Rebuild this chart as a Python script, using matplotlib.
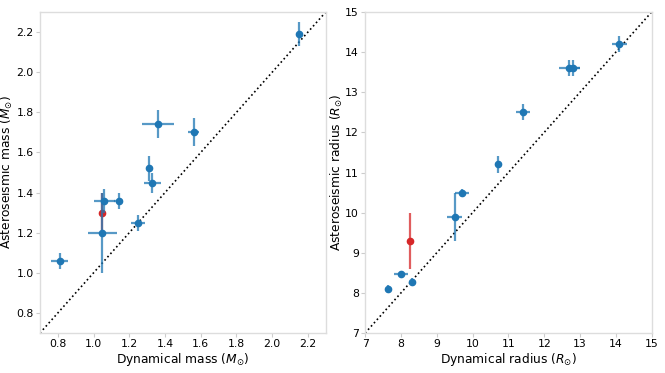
import matplotlib
matplotlib.use("Agg")
import matplotlib.pyplot as plt

# --- mass panel data ---
mass_dyn = [2.15, 1.36, 1.56, 1.31, 1.33, 1.06, 1.14, 1.05, 1.25, 0.81]
mass_dyn_err = [0.01, 0.09, 0.03, 0.01, 0.05, 0.06, 0.025, 0.08, 0.04, 0.05]
mass_ast = [2.19, 1.74, 1.70, 1.52, 1.45, 1.36, 1.36, 1.20, 1.25, 1.06]
mass_ast_err = [0.06, 0.07, 0.07, 0.06, 0.05, 0.06, 0.04, 0.20, 0.04, 0.04]
# highlighted (red) star
mass_red_dyn = [1.05]
mass_red_ast = [1.30]
mass_red_err = [0.10]

# --- radius panel data ---
rad_dyn = [14.1, 12.7, 12.8, 11.4, 10.7, 9.7, 9.5, 8.0, 8.3, 7.65]
rad_dyn_err = [0.2, 0.3, 0.2, 0.2, 0.05, 0.2, 0.2, 0.2, 0.05, 0.05]
rad_ast = [14.2, 13.6, 13.6, 12.5, 11.2, 10.5, 9.9, 8.46, 8.28, 8.09]
rad_ast_err = [0.2, 0.2, 0.2, 0.2, 0.2, 0.1, 0.6, 0.05, 0.08, 0.1]
rad_red_dyn = [8.24]
rad_red_ast = [9.3]
rad_red_err = [0.7]

plt.rcParams['font.family'] = 'DejaVu Sans'
plt.rcParams['font.size'] = 8

fig = plt.figure(figsize=(6.65, 3.73), dpi=100)
ax1 = fig.add_axes([0.060, 0.107, 0.430, 0.861])
ax2 = fig.add_axes([0.549, 0.107, 0.431, 0.861])

ekw = dict(fmt='o', ms=4.5, elinewidth=1.6, capsize=0, ls='none')


def style(ax):
    for s in ax.spines.values():
        s.set_color('#dddddd')
        s.set_linewidth(1.0)
    ax.tick_params(colors='#cccccc', labelcolor='black', length=3, width=0.8,
                   labelsize=7.8, pad=1.5)


# mass panel
ax1.plot([0.7, 2.3], [0.7, 2.3], ls=':', color='black', lw=1.2, zorder=1)
eb = ax1.errorbar(mass_red_dyn, mass_red_ast, yerr=mass_red_err, color='#d62728', zorder=2, **ekw)
eb[2][0].set_alpha(0.75)
eb = ax1.errorbar(mass_dyn, mass_ast, xerr=mass_dyn_err, yerr=mass_ast_err, color='#1f77b4', zorder=3, **ekw)
for c in eb[2]:
    c.set_alpha(0.75)
ax1.set_xlim(0.7, 2.3)
ax1.set_ylim(0.7, 2.3)
ax1.set_xticks([0.8, 1.0, 1.2, 1.4, 1.6, 1.8, 2.0, 2.2])
ax1.set_yticks([0.8, 1.0, 1.2, 1.4, 1.6, 1.8, 2.0, 2.2])
ax1.set_xlabel(r'Dynamical mass ($M_{\odot}$)', fontsize=8.8, labelpad=1)
ax1.set_ylabel(r'Asteroseismic mass ($M_{\odot}$)', fontsize=8.8)
ax1.yaxis.set_label_coords(-0.088, 0.5)
style(ax1)

# radius panel
ax2.plot([7, 15], [7, 15], ls=':', color='black', lw=1.2, zorder=1)
eb = ax2.errorbar(rad_red_dyn, rad_red_ast, yerr=rad_red_err, color='#d62728', zorder=2, **ekw)
eb[2][0].set_alpha(0.75)
eb = ax2.errorbar(rad_dyn, rad_ast, xerr=rad_dyn_err, yerr=rad_ast_err, color='#1f77b4', zorder=3, **ekw)
for c in eb[2]:
    c.set_alpha(0.75)
ax2.set_xlim(7, 15)
ax2.set_ylim(7, 15)
ax2.set_xticks(range(7, 16))
ax2.set_yticks(range(7, 16))
ax2.set_xlabel(r'Dynamical radius ($R_{\odot}$)', fontsize=8.8, labelpad=1)
ax2.set_ylabel(r'Asteroseismic radius ($R_{\odot}$)', fontsize=8.8)
ax2.yaxis.set_label_coords(-0.07, 0.5)
style(ax2)

fig.savefig('out.png', dpi=100)
